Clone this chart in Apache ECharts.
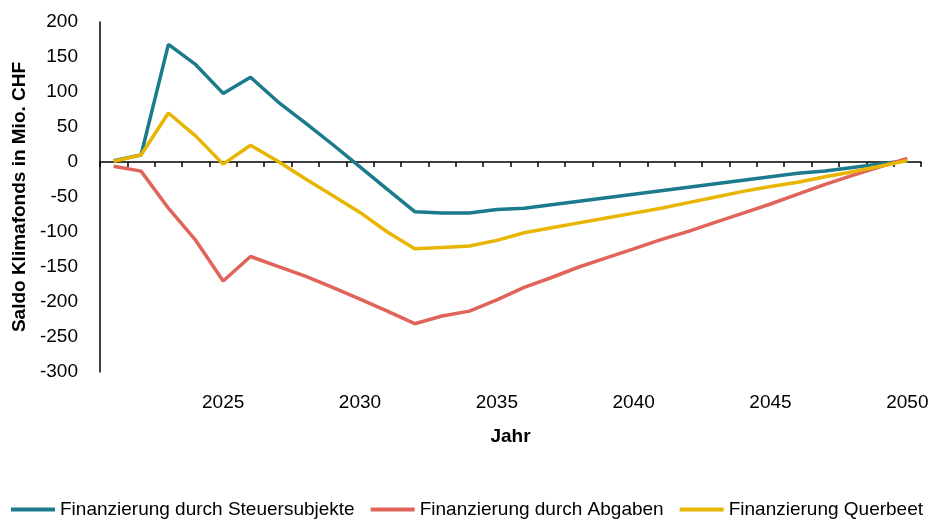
<!DOCTYPE html>
<html lang="de">
<head>
<meta charset="UTF-8"/>
<title>Saldo Klimafonds</title>
<script src="https://cdn.jsdelivr.net/npm/echarts@6/dist/echarts.min.js"></script>
</head>
<body style="margin:0">

<div id="main" style="width:934px;height:520px"></div>

<script type="text/javascript">
var years = ['2021', '2022', '2023', '2024', '2025', '2026', '2027', '2028', '2029', '2030',
    '2031', '2032', '2033', '2034', '2035', '2036', '2037', '2038', '2039', '2040',
    '2041', '2042', '2043', '2044', '2045', '2046', '2047', '2048', '2049', '2050'];

// Saldo in Mio. CHF
var steuersubjekte = [2, 10, 168, 139, 98, 121, 86, 56, 25, -7,
    -39, -71, -73, -73, -68, -66, -61, -56, -51, -46,
    -41, -36, -31, -26, -21, -16, -13, -8, -3, 2];
var abgaben = [-6, -13, -66, -112, -170, -135, -149, -163, -179, -196,
    -213, -231, -220, -213, -197, -179, -165, -150, -137, -124,
    -111, -99, -86, -73, -60, -46, -32, -19, -7, 5];
var querbeet = [1, 10, 70, 37, -3, 24, 1, -24, -48, -72,
    -100, -124, -122, -120, -112, -101, -94, -87, -80, -73,
    -66, -58, -50, -42, -35, -29, -21, -14, -6, 2];

var names = ['Finanzierung durch Steuersubjekte', 'Finanzierung durch Abgaben', 'Finanzierung Querbeet'];
var colors = ['#1B7A8C', '#E0645A', '#E8B500'];

// Arial Narrow ist nicht da, also normale Breite etwas kleiner
var font = "'Liberation Sans Narrow', 'Arial Narrow', 'Liberation Sans', Arial, sans-serif";

var myChart = echarts.init(document.getElementById('main'));

function line(name, data, color) {
    return {
        name: name,
        type: 'line',
        data: data,
        xAxisIndex: 0,
        symbol: 'none',
        showSymbol: false,
        lineStyle: {color: color, width: 3.5},
        itemStyle: {color: color}
    };
}

var option = {
    animation: false,
    textStyle: {fontFamily: font, color: '#000'},
    grid: {left: 100, right: 13, top: 22, bottom: 148, containLabel: false, outerBoundsMode: 'none'},
    legend: {
        bottom: -4,
        left: 'center',
        icon: 'rect',
        itemWidth: 44,
        itemHeight: 4,
        itemGap: 16,
        textStyle: {fontFamily: font, fontSize: 19, color: '#000'},
        data: names
    },
    xAxis: [
        {
            type: 'category',
            data: years,
            position: 'bottom',
            boundaryGap: true,
            axisLine: {onZero: true, lineStyle: {color: '#000', width: 1.5}},
            axisTick: {show: true, interval: 0, length: 5, lineStyle: {color: '#000', width: 1.5}},
            axisLabel: {show: false},
            splitLine: {show: false}
        },
        {
            type: 'category',
            data: years,
            position: 'bottom',
            boundaryGap: true,
            axisLine: {show: false, onZero: false},
            axisTick: {show: false},
            axisLabel: {
                interval: function (i, v) { return Number(v) % 5 === 0; },
                margin: 21,
                fontFamily: font,
                fontSize: 19,
                color: '#000'
            },
            splitLine: {show: false},
            name: 'Jahr',
            nameLocation: 'middle',
            nameGap: 55,
            nameTextStyle: {fontFamily: font, fontSize: 19, fontWeight: 'bold', color: '#000'}
        }
    ],
    yAxis: {
        type: 'value',
        min: -300,
        max: 200,
        interval: 50,
        axisLine: {show: true, onZero: false, lineStyle: {color: '#000', width: 1.5}},
        axisTick: {show: false},
        splitLine: {show: false},
        axisLabel: {margin: 22, fontFamily: font, fontSize: 19, color: '#000'},
        name: 'Saldo Klimafonds in Mio. CHF',
        nameLocation: 'middle',
        nameGap: 53,
        nameTextStyle: {fontFamily: font, fontSize: 19, fontWeight: 'bold', color: '#000'}
    },
    series: [
        line(names[0], steuersubjekte, colors[0]),
        line(names[1], abgaben, colors[1]),
        line(names[2], querbeet, colors[2])
    ]
};

myChart.setOption(option);
</script>
</body>
</html>
